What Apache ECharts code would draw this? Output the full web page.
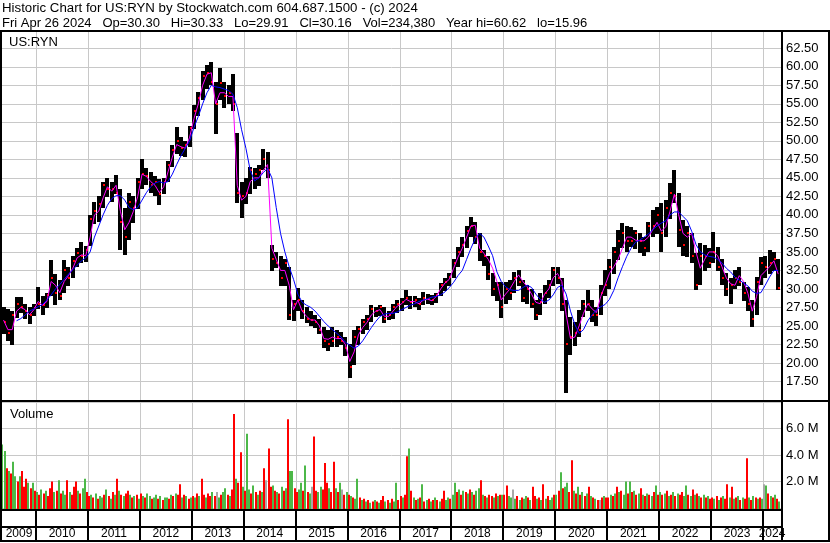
<!DOCTYPE html>
<html>
<head>
<meta charset="utf-8">
<script src="https://cdn.jsdelivr.net/npm/echarts@6/dist/echarts.min.js"></script>
<style>
html, body { margin: 0; padding: 0; background: #fff; }
#main { width: 830px; height: 543px; }
</style>
</head>
<body>
<div id="main"></div>
<script>
// monthly bars, May 2009 .. Apr 2024
var firstYear = 2009, firstMonth = 5;
var hi = [
  27.6, 27.3, 27.0, 28.9, 28.9, 28.0, 27.6, 27.9,
  30.3, 29.0, 29.5, 33.9, 32.0, 31.2, 33.9, 33.0, 34.5, 35.5, 36.3, 35.8,
  40.0, 41.8, 42.5, 44.5, 45.0, 44.5, 45.4, 43.5, 41.0, 42.9, 42.5, 45.0,
  47.5, 46.3, 45.8, 45.2, 44.8, 45.0, 47.3, 49.5, 51.9, 50.5, 50.0, 52.0,
  54.8, 56.6, 59.4, 60.3, 60.62, 58.0, 59.8, 58.0, 57.5, 59.0, 51.0, 44.5,
  45.0, 46.5, 46.3, 46.8, 48.9, 48.5, 36.0, 35.0, 34.5, 34.1, 33.0, 28.5,
  30.1, 28.5, 27.5, 27.0, 26.5, 26.0, 24.8, 24.5, 24.9, 24.5, 24.2, 23.5,
  22.5, 24.5, 25.0, 26.0, 26.5, 27.8, 27.6, 27.8, 27.5, 27.0, 28.0, 28.5,
  28.8, 29.8, 29.0, 29.0, 28.8, 29.6, 29.3, 29.2, 29.5, 30.8, 31.5, 32.2,
  34.0, 35.7, 37.0, 38.5, 39.7, 39.0, 37.5, 35.2, 34.5, 32.1, 31.0, 31.0,
  31.0, 31.2, 32.3, 32.5, 31.2, 30.5, 30.0, 28.5, 29.5, 30.5, 31.2, 33.0,
  33.0, 31.5, 28.5, 26.2, 25.5, 27.1, 28.5, 29.8, 28.5, 27.5, 30.5, 32.5,
  34.0, 35.7, 38.0, 38.9, 38.5, 38.4, 38.0, 37.5, 37.0, 39.0, 40.7, 41.1,
  41.6, 42.0, 44.3, 46.0, 43.0, 39.3, 38.5, 37.5, 34.8, 36.2, 36.0, 35.5,
  37.7, 35.7, 34.0, 32.1, 31.5, 32.5, 33.0, 31.0, 30.3, 28.5, 31.6, 34.3,
  34.5, 35.2, 35.0, 34.0
];
var lo = [
  24.0, 23.0, 22.4, 26.0, 26.7, 26.0, 25.3, 26.3,
  27.3, 26.4, 27.5, 29.0, 27.8, 28.5, 29.5, 30.5, 31.5, 33.0, 33.4, 33.6,
  35.8, 38.8, 39.0, 41.0, 42.5, 41.8, 42.8, 35.2, 34.6, 36.5, 38.8, 40.8,
  43.5, 44.0, 43.0, 42.5, 41.3, 42.8, 44.5, 46.5, 48.3, 48.0, 47.8, 49.2,
  51.5, 53.3, 55.5, 57.0, 57.5, 51.0, 55.5, 54.5, 55.0, 54.0, 41.5, 39.6,
  41.5, 42.8, 43.5, 44.0, 46.0, 45.0, 32.5, 32.8, 30.5, 30.5, 25.8, 25.6,
  27.0, 26.0, 25.3, 25.0, 24.8, 24.0, 22.0, 21.7, 22.2, 22.2, 22.5, 21.0,
  17.9, 19.8, 22.5, 24.0, 24.5, 25.5, 26.2, 26.3, 25.3, 25.8, 26.0, 26.8,
  27.0, 27.8, 27.3, 27.5, 27.2, 27.8, 28.0, 27.8, 28.2, 29.0, 29.8, 30.5,
  31.5, 33.0, 34.3, 35.5, 37.0, 36.0, 33.7, 33.0, 31.2, 29.0, 28.5, 26.2,
  28.0, 28.5, 29.5, 30.3, 28.2, 28.0, 27.5, 25.8, 26.5, 28.0, 28.8, 30.5,
  30.7, 27.0, 15.96, 21.0, 22.2, 23.5, 26.2, 27.0, 25.5, 24.9, 26.5, 29.0,
  30.0, 32.0, 33.9, 35.5, 35.0, 35.7, 35.5, 34.8, 34.5, 35.0, 37.0, 37.5,
  35.0, 37.0, 39.5, 41.5, 35.7, 34.5, 34.3, 33.5, 29.8, 30.5, 32.5, 32.8,
  33.5, 32.5, 30.5, 29.0, 28.0, 30.0, 30.5, 28.5, 27.1, 24.9, 26.5, 30.5,
  31.5, 32.0, 32.5, 29.8
];
var cl = [
  25.5, 24.0, 26.5, 28.0, 27.5, 27.0, 26.5, 27.4,
  28.0, 27.8, 29.2, 31.5, 29.5, 29.0, 32.5, 31.5, 33.8, 34.8, 34.5, 35.2,
  39.5, 40.5, 41.5, 44.0, 43.5, 43.5, 43.0, 39.0, 37.0, 41.8, 41.0, 44.5,
  45.5, 45.3, 44.0, 44.5, 42.8, 44.5, 46.8, 48.8, 50.0, 49.0, 49.5, 51.8,
  54.0, 55.8, 58.8, 59.2, 58.0, 55.0, 57.8, 56.0, 56.5, 55.0, 43.0, 42.5,
  43.0, 46.0, 45.5, 46.0, 47.5, 46.0, 34.0, 33.5, 31.5, 33.5, 26.5, 27.9,
  28.5, 27.0, 26.0, 25.8, 25.5, 24.5, 23.0, 22.5, 23.0, 23.5, 23.0, 22.0,
  19.5, 23.5, 24.6, 25.5, 26.0, 27.3, 27.0, 27.5, 26.0, 26.5, 27.5, 28.0,
  28.3, 28.8, 28.2, 28.5, 28.0, 28.8, 28.6, 28.5, 29.2, 30.5, 31.0, 31.6,
  33.5, 35.0, 36.0, 37.8, 38.5, 37.0, 35.0, 34.5, 32.0, 30.0, 30.5, 27.5,
  30.0, 29.5, 31.5, 31.0, 28.8, 30.0, 28.0, 26.5, 28.3, 29.5, 30.5, 32.5,
  31.5, 28.0, 22.5, 23.5, 24.0, 24.5, 28.0, 28.0, 26.5, 26.5, 29.5, 30.5,
  33.0, 35.0, 36.5, 37.5, 36.5, 36.5, 37.5, 36.5, 35.5, 38.5, 38.5, 40.0,
  37.5, 41.0, 43.0, 42.5, 38.0, 36.0, 37.5, 34.5, 30.5, 34.5, 34.5, 33.5,
  35.0, 33.0, 31.5, 30.0, 30.5, 31.5, 31.0, 29.5, 28.0, 26.0, 31.0, 33.5,
  33.0, 33.5, 34.0, 30.16
];
// short average (pink) and long average (blue), read at mid-month
var maFast = [
  25.8, 24.5, 24.5, 27.0, 27.5, 27.2, 26.5, 27.2,
  28.3, 27.8, 28.3, 31.0, 30.5, 29.5, 31.0, 31.8, 32.8, 34.2, 34.6, 34.5,
  37.0, 40.0, 40.5, 42.3, 43.8, 43.2, 44.0, 40.5, 38.0, 39.0, 40.5, 42.5,
  45.5, 45.2, 44.5, 44.0, 43.0, 43.8, 45.8, 47.8, 49.5, 49.2, 49.0, 50.5,
  53.0, 55.0, 57.5, 59.0, 59.2, 55.0, 56.5, 56.5, 56.0, 56.0, 44.0, 42.0,
  42.5, 44.5, 45.0, 45.0, 46.0, 46.8, 35.5, 34.0, 32.5, 32.5, 30.5, 27.2,
  28.5, 27.0, 26.3, 25.8, 25.8, 25.0, 23.3, 23.2, 23.5, 23.3, 23.3, 22.5,
  20.2, 21.5, 23.8, 24.8, 25.5, 26.5, 27.0, 27.2, 26.3, 26.3, 27.0, 27.7,
  28.0, 28.6, 28.3, 28.3, 28.0, 28.5, 28.6, 28.4, 29.0, 30.0, 30.8, 31.3,
  32.8, 34.3, 35.5, 37.0, 38.5, 38.6, 35.5, 34.8, 34.0, 32.8, 31.0, 28.5,
  29.3, 30.0, 31.0, 31.9, 31.0, 30.3, 29.3, 28.2, 28.0, 29.3, 30.0, 31.5,
  32.1, 31.0, 26.5, 23.3, 23.5, 25.0, 26.7, 28.0, 27.3, 26.8, 29.0, 30.5,
  32.1, 33.0, 34.0, 35.5, 37.0, 37.0, 36.6, 36.5, 36.5, 37.0, 38.0, 39.0,
  37.8, 38.4, 40.5, 42.8, 40.0, 37.5, 37.0, 37.5, 35.0, 32.8, 34.0, 35.0,
  35.0, 34.5, 33.0, 31.5, 30.7, 30.5, 31.8, 31.0, 29.4, 27.0, 29.0, 31.8,
  32.4, 33.0, 33.8, 32.0
];
var maSlow = [
  null, null, null, 25.7, 26.0, 26.5, 27.0, 27.3,
  27.6, 27.9, 28.5, 29.2, 30.0, 30.6, 31.3, 32.0, 32.6, 33.2, 33.8, 34.2,
  35.0, 37.0, 38.5, 40.0, 41.3, 42.2, 42.6, 42.6, 42.0, 41.0, 40.7, 41.0,
  42.0, 43.0, 43.8, 44.3, 44.5, 44.3, 44.5, 45.5, 46.8, 48.0, 49.0, 50.0,
  51.8, 53.3, 55.0, 56.5, 57.5, 57.3, 57.2, 57.0, 56.8, 56.3, 54.5, 51.5,
  49.0, 46.0, 44.6, 45.0, 45.7, 46.3, 45.0, 41.0, 37.5, 35.0, 33.0, 31.3,
  29.3, 28.2, 27.8, 27.5, 27.0, 26.3, 25.6, 25.0, 24.5, 24.0, 23.5, 22.8,
  22.4, 22.0, 22.3, 23.0, 23.9, 24.8, 25.6, 26.3, 26.6, 26.7, 26.7, 26.9,
  27.2, 27.5, 27.8, 28.0, 28.3, 28.5, 28.7, 28.9, 29.0, 29.2, 29.6, 30.2,
  30.9, 31.8, 32.5, 34.0, 35.5, 36.8, 37.5, 37.0, 35.8, 34.5, 32.3, 31.0,
  30.3, 29.9, 29.8, 29.8, 30.2, 30.5, 30.2, 29.3, 28.6, 28.2, 28.5, 29.2,
  30.2, 30.5, 29.3, 27.0, 25.2, 24.0, 24.5, 25.7, 26.5, 27.2, 27.6, 27.9,
  28.6, 29.8, 31.5, 33.0, 34.4, 35.5, 36.3, 36.6, 37.0, 37.4, 38.0, 38.5,
  38.9, 39.2, 40.0, 40.4, 40.4, 39.8, 39.2, 37.8, 36.0, 35.0, 34.6, 34.4,
  34.3, 34.0, 33.5, 32.8, 32.3, 31.6, 31.2, 30.8, 30.4, 29.7, 29.4, 29.5,
  30.5, 31.6, 32.5, 32.5
];
// volume in millions, two bars per month from May 2009; colour r = down, g = up, x = flat
var volume = [
  4.8,4.3,3.0,2.8,2.6,3.5,2.4,2.0,2.4,2.8,1.6,2.2,1.9,1.5,1.9,1.3,
  1.2,1.0,1.4,1.1,1.3,0.9,1.5,2.0,1.2,1.3,2.1,1.1,1.3,1.0,2.1,1.2,1.0,1.6,2.0,1.3,1.1,1.5,2.2,1.2,
  0.9,1.0,0.8,1.1,0.7,0.9,0.8,1.0,1.4,0.9,0.7,1.2,1.0,2.2,1.3,1.0,0.9,1.1,1.3,1.0,0.8,0.9,1.0,0.7,
  1.1,0.9,0.8,1.1,0.9,0.7,0.8,1.0,0.7,0.9,0.6,0.8,0.8,0.7,1.0,0.9,1.1,1.0,1.8,0.8,1.0,0.9,0.7,0.8,
  0.9,0.8,1.1,0.9,2.2,1.0,0.8,1.1,0.9,1.2,0.9,1.2,0.8,1.0,1.2,1.5,1.0,0.9,1.4,7.1,2.2,1.9,4.2,1.6,
  1.3,5.6,1.4,1.1,1.7,1.2,1.0,1.3,1.2,3.0,2.1,4.5,1.6,1.7,1.3,1.2,1.1,1.6,1.3,1.5,6.7,2.8,2.8,1.5,
  1.2,1.4,1.9,1.3,3.2,1.2,1.1,1.6,5.4,1.3,1.2,1.6,1.4,3.4,1.9,1.5,1.2,3.5,1.5,1.2,1.9,1.4,1.0,1.2,
  1.0,0.9,0.8,0.7,2.2,0.8,0.6,0.7,0.5,0.6,0.4,0.5,0.6,0.5,0.4,0.6,0.9,0.5,0.6,0.4,0.7,0.5,1.9,0.6,
  0.9,0.8,1.0,3.9,4.5,1.3,0.8,0.6,0.7,0.8,1.8,0.5,0.6,0.7,0.5,0.6,0.8,0.6,0.5,0.7,1.3,0.6,0.8,0.7,
  1.0,1.9,1.2,1.4,1.0,1.3,1.2,1.1,1.4,1.2,1.0,1.3,1.5,2.1,1.0,0.9,0.8,1.0,0.9,0.8,1.1,0.9,1.0,1.0,
  1.0,1.7,0.9,0.8,1.4,0.7,0.9,0.6,0.8,0.7,0.9,0.8,0.6,1.6,0.9,0.7,0.8,0.6,1.8,0.7,0.9,0.6,0.8,1.0,
  1.0,1.3,2.7,1.5,1.6,1.9,1.2,3.6,1.3,1.1,1.6,1.0,1.2,0.9,1.1,1.6,0.9,0.8,0.7,0.6,0.6,0.8,0.9,0.8,
  0.8,1.0,0.9,1.1,1.6,1.2,1.3,1.0,2.0,1.1,2.0,1.2,1.3,1.0,1.1,1.5,1.0,0.9,1.1,1.0,0.9,1.2,1.7,1.0,
  1.2,1.0,1.1,1.3,0.9,1.0,1.2,0.9,1.1,1.0,1.2,0.9,1.7,1.0,0.9,1.4,1.0,1.1,0.9,0.8,1.0,0.8,0.9,0.7,
  0.8,0.7,0.9,0.6,0.8,0.9,0.7,1.8,0.8,1.6,0.7,0.8,0.9,0.6,0.8,0.7,3.75,0.8,0.6,0.9,0.8,0.7,0.8,0.7,
  1.8,1.7,1.1,0.9,0.8,1.0,0.7,0.5
];
var volumeColor =
  'ggrgrggrgrrrgrgr' +
  'grgrgrrrgrgrggrgrrrgrggr' +
  'rgrgrggrgrgrgrgrgrrgrgrg' +
  'rgrggrggrgrggrgrgrrgrgrg' +
  'rgrgrrgrrgrxgrggrgrrgrrg' +
  'rggrgrgrgrxrrgrgrgrgrggr' +
  'rggrgrgxrrggrrrgrrgrgxrg' +
  'rgrggrgrgrgrgrgrrgrgrggr' +
  'rgrrgrgrgrgrgrgrgrgrrggr' +
  'ggrgrgrgrgrggrgrgrrgrgrg' +
  'rrggxgrgrggrgrrgrgrgrggr' +
  'grgrggrrgrgrgrgrgrgrxrgr' +
  'rgrgrgrggrgrgrgrgrgrgrgr' +
  'grgrgrgrgrrggrgrgrgrgrgr' +
  'rgrgrgrrgrgrgrgrrgrgrgrg' +
  'xgrgrgrg';
var years = [2009, 2010, 2011, 2012, 2013, 2014, 2015, 2016, 2017, 2018, 2019, 2020, 2021, 2022, 2023, 2024];
var xFrom = 2009.345, xTo = 2024.345;

var monthT = hi.map(function (_, i) {
  var m = firstMonth - 1 + i;
  return firstYear + Math.floor(m / 12) + ((m % 12) + 0.5) / 12;
});
var barData = monthT.map(function (t, i) { return [t, lo[i], hi[i], cl[i]]; });
var fastData = monthT.map(function (t, i) { return [t, maFast[i]]; });
var slowData = monthT.map(function (t, i) { return [t, maSlow[i]]; });
var volData = volume.map(function (v, k) {
  return [firstYear + ((firstMonth - 1) * 2 + k + 0.5) / 24, v, volumeColor.charAt(k)];
});
var volFill = { r: '#ff0000', g: '#4cb848', x: '#a8a8a8' };

var font = '"Liberation Sans", Arial, sans-serif';
var gridColor = '#c8c8c8';

function yearLines(params, api) {
  var p = api.coord([api.value(0), api.value(1)]);
  var cs = params.coordSys;
  var x = Math.round(p[0]) + 0.5;
  return { type: 'line', shape: { x1: x, y1: cs.y, x2: x, y2: cs.y + cs.height },
    style: { stroke: gridColor, lineWidth: 1 } };
}

var chart = echarts.init(document.getElementById('main'));
chart.setOption({
  animation: false,
  backgroundColor: '#fff',
  grid: [
    { left: 2, right: 49, top: 31, height: 369, outerBoundsMode: 'none' },
    { left: 2, right: 49, top: 402, height: 106, outerBoundsMode: 'none' },
    { left: 2, right: 49, top: 510, height: 31, outerBoundsMode: 'none' }
  ],
  xAxis: [0, 1, 2].map(function (i) {
    return { type: 'value', gridIndex: i, min: xFrom, max: xTo, show: false };
  }),
  yAxis: [
    { type: 'value', gridIndex: 0, position: 'right', min: 15, max: 64.84, interval: 2.5,
      axisLine: { show: false }, axisTick: { show: false },
      splitLine: { show: true, lineStyle: { color: gridColor, width: 1 } },
      axisLabel: { margin: 5, color: '#000', fontSize: 13, fontFamily: font,
        formatter: function (v) { return (v > 16 && v < 63.5) ? v.toFixed(2) : ''; } } },
    { type: 'value', gridIndex: 1, position: 'right', min: 0, max: 8, interval: 2,
      axisLine: { show: false }, axisTick: { show: false },
      splitLine: { show: true, lineStyle: { color: gridColor, width: 1 } },
      axisLabel: { margin: 5, color: '#000', fontSize: 13, fontFamily: font,
        formatter: function (v) { return (v > 0.5 && v < 7.5) ? v.toFixed(1) + ' M' : ''; } } },
    { type: 'value', gridIndex: 2, min: 0, max: 1, show: false }
  ],
  series: [
    { type: 'custom', xAxisIndex: 0, yAxisIndex: 0, silent: true, z: 1,
      data: years.slice(1).map(function (y) { return [y, 40]; }), renderItem: yearLines },
    { type: 'custom', xAxisIndex: 1, yAxisIndex: 1, silent: true, z: 1,
      data: years.slice(1).map(function (y) { return [y, 1]; }), renderItem: yearLines },
    { type: 'custom', xAxisIndex: 0, yAxisIndex: 0, silent: true, z: 2, data: barData,
      renderItem: function (params, api) {
        var t = api.value(0);
        var pHi = api.coord([t, api.value(2)]);
        var pLo = api.coord([t, api.value(1)]);
        var pCl = api.coord([t, api.value(3)]);
        var x = Math.round(pHi[0] - 2);
        return { type: 'group', children: [
          { type: 'rect', shape: { x: x, y: Math.round(pHi[1]), width: 4, height: Math.max(2, Math.round(pLo[1] - pHi[1])) },
            style: { fill: '#000' } },
          { type: 'rect', z2: 5, shape: { x: x + 2, y: Math.round(pCl[1]) - 1, width: 2, height: 2 },
            style: { fill: '#ff0000' } }
        ] };
      } },
    { type: 'line', xAxisIndex: 0, yAxisIndex: 0, data: fastData, symbol: 'none', silent: true, z: 3,
      lineStyle: { color: '#ff00ff', width: 1 } },
    { type: 'line', xAxisIndex: 0, yAxisIndex: 0, data: slowData, symbol: 'none', silent: true, z: 4,
      lineStyle: { color: '#0000ff', width: 1 } },
    { type: 'custom', xAxisIndex: 1, yAxisIndex: 1, silent: true, z: 2, data: volData,
      renderItem: function (params, api) {
        var t = api.value(0);
        var top = api.coord([t, api.value(1)]);
        var base = api.coord([t, 0]);
        return { type: 'rect', shape: { x: Math.round(top[0] - 1), y: top[1], width: 2, height: base[1] - top[1] + 1 },
          style: { fill: volFill[volData[params.dataIndex][2]] } };
      } },
    { type: 'custom', xAxisIndex: 2, yAxisIndex: 2, silent: true, z: 2,
      data: years.map(function (y) { return [y, 0.5]; }),
      renderItem: function (params, api) {
        var y0 = api.value(0);
        var a = Math.max(y0, xFrom), b = Math.min(y0 + 1, xTo);
        var pa = api.coord([a, 0]), pb = api.coord([b, 0]);
        var cs = params.coordSys;
        var kids = [{ type: 'text', x: (pa[0] + pb[0]) / 2, y: cs.y + 24,
          style: { text: String(y0), fill: '#000', font: '12px ' + font, align: 'center', verticalAlign: 'middle' } }];
        if (y0 > xFrom) {
          kids.push({ type: 'rect', shape: { x: Math.round(pa[0]) - 1, y: cs.y, width: 2, height: cs.height },
            style: { fill: '#000' } });
        }
        return { type: 'group', children: kids };
      } }
  ],
  graphic: [
    { type: 'text', x: 2, y: 8, z: 100, style: { text: 'Historic Chart for US:RYN by Stockwatch.com 604.687.1500 - (c) 2024',
      font: '13.25px ' + font, fill: '#000', verticalAlign: 'middle' } },
    { type: 'text', x: 2, y: 23, z: 100, style: { text: 'Fri Apr 26 2024   Op=30.30   Hi=30.33   Lo=29.91   Cl=30.16   Vol=234,380   Year hi=60.62   lo=15.96',
      font: '13px ' + font, fill: '#000', verticalAlign: 'middle' } },
    { type: 'text', x: 9, y: 42, z: 100, style: { text: 'US:RYN', font: '13px ' + font, fill: '#000', verticalAlign: 'middle' } },
    { type: 'text', x: 10, y: 414, z: 100, style: { text: 'Volume', font: '13px ' + font, fill: '#000', verticalAlign: 'middle' } },
    { type: 'rect', z: 100, shape: { x: 0, y: 30, width: 830, height: 2 }, style: { fill: '#000' } },
    { type: 'rect', z: 100, shape: { x: 0, y: 30, width: 2, height: 512 }, style: { fill: '#000' } },
    { type: 'rect', z: 100, shape: { x: 781, y: 30, width: 2, height: 512 }, style: { fill: '#000' } },
    { type: 'rect', z: 100, shape: { x: 828, y: 30, width: 2, height: 512 }, style: { fill: '#000' } },
    { type: 'rect', z: 100, shape: { x: 0, y: 400, width: 830, height: 2 }, style: { fill: '#000' } },
    { type: 'rect', z: 100, shape: { x: 0, y: 509, width: 783, height: 2 }, style: { fill: '#000' } },
    { type: 'rect', z: 100, shape: { x: 0, y: 526, width: 783, height: 2 }, style: { fill: '#000' } },
    { type: 'rect', z: 100, shape: { x: 0, y: 540, width: 830, height: 2 }, style: { fill: '#000' } }
  ]
});
</script>
</body>
</html>
